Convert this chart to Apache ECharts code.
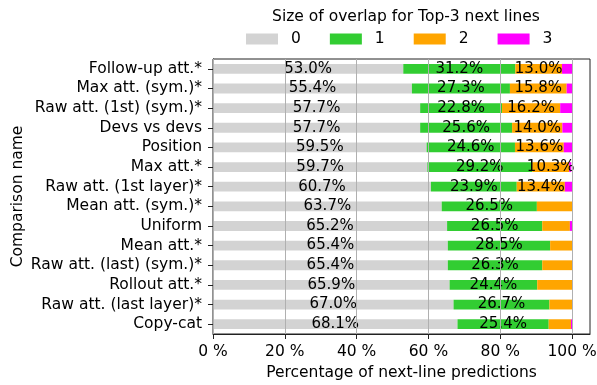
<!DOCTYPE html>
<html>
<head>
<meta charset="utf-8">
<script src="https://cdn.jsdelivr.net/npm/echarts@6/dist/echarts.min.js"></script>
<style>
  html, body { margin: 0; padding: 0; background: #fff; }
  #chart { width: 597px; height: 385px; }
</style>
</head>
<body>
<div id="chart"></div>
<script>
// Comparison methods, top to bottom
const categories = [
  'Follow-up att.*', 'Max att. (sym.)*', 'Raw att. (1st) (sym.)*', 'Devs vs devs',
  'Position', 'Max att.*', 'Raw att. (1st layer)*', 'Mean att. (sym.)*',
  'Uniform', 'Mean att.*', 'Raw att. (last) (sym.)*', 'Rollout att.*',
  'Raw att. (last layer)*', 'Copy-cat'
];

// Share of next-line predictions (%) by overlap size with the top-3 next lines
const overlap0 = [53.0, 55.4, 57.7, 57.7, 59.5, 59.7, 60.7, 63.7, 65.2, 65.4, 65.4, 65.9, 67.0, 68.1];
const overlap1 = [31.2, 27.3, 22.8, 25.6, 24.6, 29.2, 23.9, 26.5, 26.5, 28.5, 26.3, 24.4, 26.7, 25.4];
const overlap2 = [13.0, 15.8, 16.2, 14.0, 13.6, 10.3, 13.4, 9.8, 7.7, 6.1, 8.3, 9.7, 6.3, 6.2];
const overlap3 = [2.8, 1.5, 3.3, 2.7, 2.3, 0.6, 2.0, 0.0, 0.6, 0.0, 0.0, 0.0, 0.0, 0.3];

const seriesNames = ['0', '1', '2', '3'];
const seriesColors = ['#d3d3d3', '#32cd32', '#ffa500', '#ff00ff'];
const xTicks = [0, 20, 40, 60, 80, 100];

const FONT = 'DejaVu Sans';
const FS = 15.5;

const chart = echarts.init(document.getElementById('chart'), null, { renderer: 'canvas' });

const valueSets = [overlap0, overlap1, overlap2, overlap3];
const series = valueSets.map((vals, i) => ({
  name: seriesNames[i],
  type: 'bar',
  stack: 'total',
  barWidth: '50%',
  itemStyle: { color: seriesColors[i] },
  data: vals,
  label: {
    show: true,
    position: 'inside',
    color: '#000',
    fontFamily: FONT,
    fontSize: 15,
    formatter: p => (p.value >= 10 ? p.value.toFixed(1) + '%' : '')
  },
  emphasis: { disabled: true }
}));

chart.setOption({
  animation: false,
  textStyle: { fontFamily: FONT },
  title: {
    text: 'Size of overlap for Top-3 next lines',
    left: 401,
    top: 4,
    textAlign: 'center',
    textStyle: { fontFamily: FONT, fontSize: FS, fontWeight: 'normal', color: '#000' }
  },
  legend: {
    data: seriesNames,
    left: 241,
    top: 26,
    width: 400,
    itemWidth: 32,
    itemHeight: 11,
    itemGap: 29,
    icon: 'rect',
    textStyle: { fontFamily: FONT, fontSize: FS, color: '#000', padding: [0, 0, 0, 8] }
  },
  grid: {
    left: 213,
    right: 7,
    top: 59,
    bottom: 51,
    outerBoundsMode: 'none',
    containLabel: false,
    show: true,
    borderColor: '#222',
    borderWidth: 1,
    backgroundColor: 'transparent'
  },
  xAxis: {
    type: 'value',
    min: 0,
    max: 105,
    interval: 20,
    z: 10,
    name: 'Percentage of next-line predictions',
    nameLocation: 'middle',
    nameGap: 31,
    nameMoveOverlap: false,
    nameTextStyle: { fontFamily: FONT, fontSize: FS, color: '#000' },
    axisLine: { show: true, lineStyle: { color: '#222', width: 1 } },
    axisTick: { show: true, length: 5, lineStyle: { color: '#222' }, customValues: xTicks },
    axisLabel: {
      fontFamily: FONT, fontSize: FS, color: '#000', margin: 10,
      customValues: xTicks,
      formatter: v => v + ' %'
    },
    splitLine: { show: true, lineStyle: { color: '#b0b0b0', width: 1 } }
  },
  yAxis: {
    type: 'category',
    data: categories,
    inverse: true,
    name: 'Comparison name',
    nameLocation: 'middle',
    nameGap: 187,
    nameMoveOverlap: false,
    nameRotate: 90,
    nameTextStyle: { fontFamily: FONT, fontSize: FS, color: '#000' },
    axisLine: { show: true, lineStyle: { color: '#222', width: 1 } },
    axisTick: { show: true, alignWithLabel: true, interval: 0, length: 5, lineStyle: { color: '#222' } },
    axisLabel: { interval: 0, fontFamily: FONT, fontSize: FS, color: '#000', margin: 11 },
    splitLine: { show: false }
  },
  series: series
});
</script>
</body>
</html>
